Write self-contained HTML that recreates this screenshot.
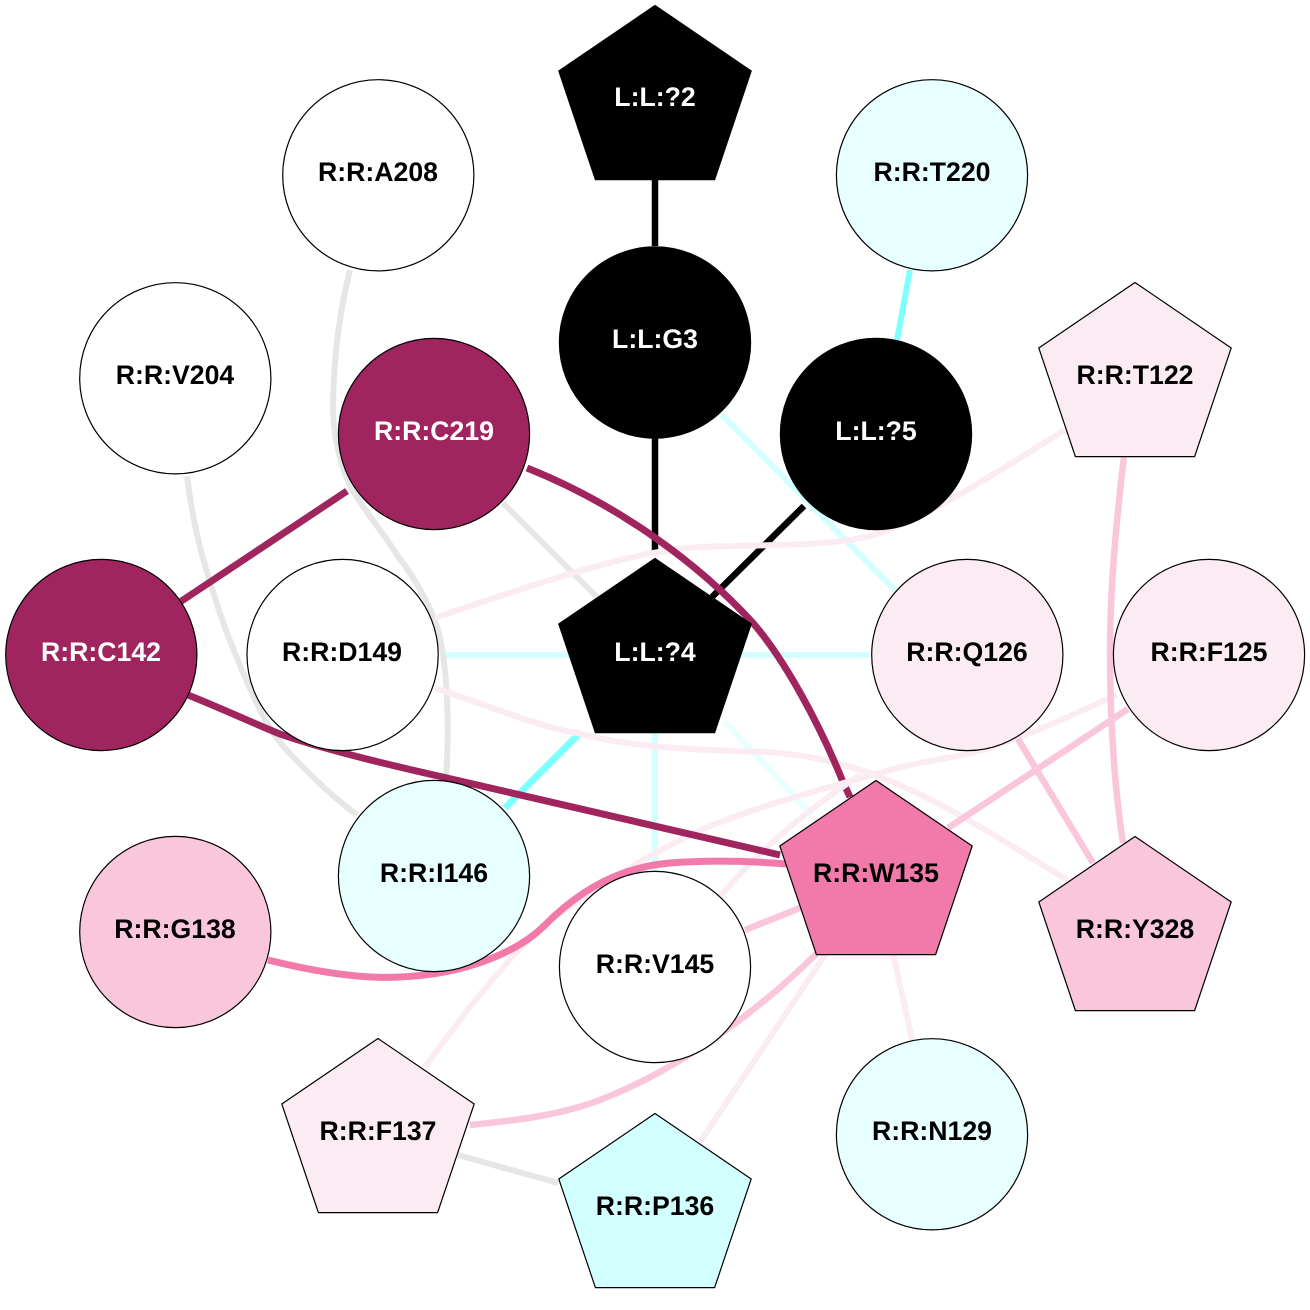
<!DOCTYPE html>
<html>
<head>
<meta charset="utf-8">
<style>
html,body{margin:0;padding:0;background:#fff;width:1310px;height:1310px;overflow:hidden}
svg{display:block}
text{font-family:"Liberation Sans",sans-serif;font-weight:bold;font-size:26.67px;text-anchor:middle}
.e{fill:none;stroke-width:6}
.t{stroke-width:7}
.m{stroke-width:6.5}
.n{stroke:#000;stroke-width:1.2}
</style>
</head>
<body>
<svg width="1310" height="1310" viewBox="0 0 1310 1310" xmlns="http://www.w3.org/2000/svg">
<defs>
<polygon id="p" points="0,0.5 96.2,66 59.6,174.6 -59.6,174.6 -96.2,66"/>
</defs>
<!-- edges -->
<g class="edges">
<path class="e" stroke="#d4ffff" d="M722 415L895 590"/>
<path class="e" stroke="#d4ffff" d="M443 655L870 655"/>
<path class="e" stroke="#d4ffff" d="M655 733L655 872"/>
<path class="e" stroke="#e8ffff" d="M725 722L812 815"/>
<path class="e" stroke="#7fffff" d="M910 270L897 340"/>
<path class="e t" stroke="#7fffff" d="M505 808L580 733"/>
<path class="e m" stroke="#000" d="M655 180L655 246"/>
<path class="e m" stroke="#000" d="M655 438L655 551"/>
<path class="e m" stroke="#000" d="M804 506L712 597"/>
<path class="e" stroke="#e6e6e6" d="M503 503L597 597"/>
<path class="e" stroke="#e6e6e6" d="M350 270C340 310 333 360 333 413C335 450 345 480 357 497C370 518 385 535 397 555C415 578 430 605 437 627C447 660 450 720 446 778"/>
<path class="e" stroke="#e6e6e6" d="M187 476C190 500 195 530 203 558C212 590 225 630 237 658C250 690 265 725 283 746C305 770 330 795 357 815"/>
<path class="e" stroke="#e6e6e6" d="M458 1155L558 1183"/>
<path class="e" stroke="#fbecf4" d="M1065 430C1000 470 940 510 883 532C840 548 760 544 700 547C640 550 560 575 435 618"/>
<path class="e" stroke="#fbecf4" d="M435 688C500 710 540 727 577 733C620 745 680 750 767 752C810 755 850 765 883 778C950 805 1010 845 1067 880"/>
<path class="e t" stroke="#a0245e" d="M527 468C620 505 700 565 753 623C785 660 820 725 843 782L850 797"/>
<path class="e t" stroke="#a0245e" d="M180 602L347 491"/>
<path class="e" stroke="#fbecf4" d="M1117 695C1060 720 1030 735 983 750C950 760 920 760 883 772C800 795 740 812 697 832C660 850 640 860 617 877C590 895 570 905 550 920C510 955 470 1005 425 1067"/>
<path class="e" stroke="#fbecf4" d="M860 775C800 815 760 850 723 893L660 960"/>
<path class="e" stroke="#fbecf4" d="M825 955L700 1142"/>
<path class="e" stroke="#fbecf4" d="M893 953L912 1040"/>
<path class="e t" stroke="#a0245e" d="M188 695C230 712 255 724 280 734C320 748 380 763 447 778L780 855"/>
<path class="e m" stroke="#f9c6dc" d="M800 908L745 930"/>
<path class="e m" stroke="#f9c6dc" d="M817 953C770 1000 690 1065 600 1100C560 1115 520 1120 470 1125"/>
<path class="e t" stroke="#f27aab" d="M268 960C320 973 365 979 400 977C470 974 520 950 545 925C570 900 610 868 670 863C710 860 750 861 787 864"/>
<path class="e m" stroke="#f9c6dc" d="M1018 739L1093 863"/>
<path class="e m" stroke="#f9c6dc" d="M1128 709L948 828"/>
<path class="e m" stroke="#f9c6dc" d="M1124 457C1115 530 1110 600 1110 653C1110 730 1115 790 1123 843"/>
</g>
<!-- circles -->
<circle class="n" cx="378.3" cy="175.3" r="95.6" fill="#fff"/>
<circle class="n" cx="932" cy="175.3" r="95.6" fill="#e8ffff"/>
<circle class="n" cx="655" cy="342.5" r="95.6" fill="#000"/>
<circle class="n" cx="876" cy="434" r="95.6" fill="#000"/>
<circle class="n" cx="175.3" cy="378.3" r="95.6" fill="#fff"/>
<circle class="n" cx="434" cy="434" r="95.6" fill="#a0245e"/>
<circle class="n" cx="101.3" cy="655" r="95.6" fill="#a0245e"/>
<circle class="n" cx="342.6" cy="655" r="95.6" fill="#fff"/>
<circle class="n" cx="967.3" cy="655" r="95.6" fill="#fbecf4"/>
<circle class="n" cx="1209" cy="655" r="95.6" fill="#fbecf4"/>
<circle class="n" cx="434" cy="876" r="95.6" fill="#e8ffff"/>
<circle class="n" cx="175.3" cy="932" r="95.6" fill="#f9c6dc"/>
<circle class="n" cx="655" cy="967" r="95.6" fill="#fff"/>
<circle class="n" cx="932" cy="1134.3" r="95.6" fill="#e8ffff"/>
<!-- pentagons -->
<use href="#p" class="n" x="655" y="5" fill="#000"/>
<use href="#p" class="n" x="1135" y="282" fill="#fbecf4"/>
<use href="#p" class="n" x="655" y="558" fill="#000"/>
<use href="#p" class="n" x="876" y="780" fill="#f27aab"/>
<use href="#p" class="n" x="1135" y="836" fill="#f9c6dc"/>
<use href="#p" class="n" x="378" y="1038" fill="#fbecf4"/>
<use href="#p" class="n" x="655" y="1113" fill="#d2ffff"/>
<!-- labels -->
<g transform="translate(0,-1)">
<text x="655" y="107" fill="#fff">L:L:?2</text>
<text x="378" y="182">R:R:A208</text>
<text x="932" y="182">R:R:T220</text>
<text x="655" y="349" fill="#fff">L:L:G3</text>
<text x="876" y="441" fill="#fff">L:L:?5</text>
<text x="175" y="385">R:R:V204</text>
<text x="434" y="441" fill="#fff">R:R:C219</text>
<text x="1135" y="385">R:R:T122</text>
<text x="101" y="662" fill="#fff">R:R:C142</text>
<text x="342" y="662">R:R:D149</text>
<text x="655" y="662" fill="#fff">L:L:?4</text>
<text x="967" y="662">R:R:Q126</text>
<text x="1209" y="662">R:R:F125</text>
<text x="434" y="883">R:R:I146</text>
<text x="876" y="883">R:R:W135</text>
<text x="175" y="939">R:R:G138</text>
<text x="1135" y="939">R:R:Y328</text>
<text x="655" y="974">R:R:V145</text>
<text x="378" y="1141">R:R:F137</text>
<text x="932" y="1141">R:R:N129</text>
<text x="655" y="1216">R:R:P136</text>
</g>
</svg>
</body>
</html>
